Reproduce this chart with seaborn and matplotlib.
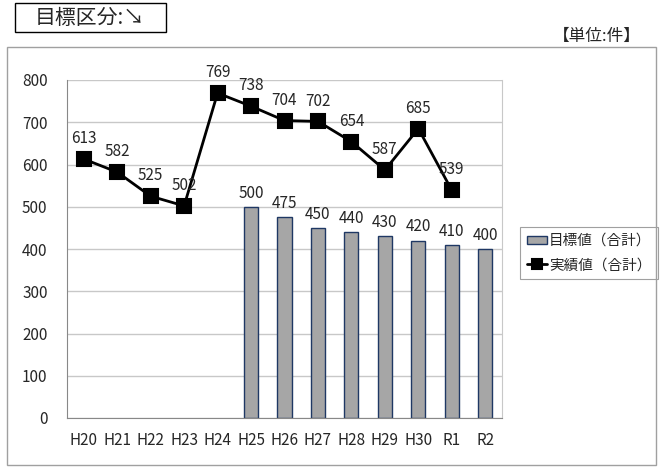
import matplotlib
matplotlib.use("Agg")
import matplotlib.pyplot as plt
import seaborn as sns
import numpy as np
from matplotlib.patches import Rectangle

# data
years = ["H20", "H21", "H22", "H23", "H24", "H25", "H26", "H27", "H28", "H29", "H30", "R1", "R2"]
target = [np.nan, np.nan, np.nan, np.nan, np.nan, 500, 475, 450, 440, 430, 420, 410, 400]
actual = [613, 582, 525, 502, 769, 738, 704, 702, 654, 587, 685, 539, np.nan]

sns.set_style("white")
plt.rcParams["font.family"] = ["Noto Sans CJK JP", "DejaVu Sans"]

W, H = 660, 467
fig = plt.figure(figsize=(W / 100, H / 100), dpi=100)
ax = fig.add_axes([67 / W, 1 - 418 / H, (502 - 67) / W, (418 - 80) / H])

# bars
sns.barplot(x=years, y=target, order=years, color="#a6a6a6", edgecolor="#1f3864",
            linewidth=1, width=0.42, saturation=1, ax=ax, label="目標値（合計）")

# line
sns.pointplot(x=years, y=actual, order=years, color="black", markers="s",
              markersize=10, linewidth=2, ax=ax, label="実績値（合計）")

ax.set_ylim(0, 800)
ax.set_xlim(-0.5, len(years) - 0.5)
ax.set_yticks(range(0, 801, 100))
ax.yaxis.grid(True, color="#c8c8c8", linewidth=1)
ax.set_axisbelow(True)
ax.spines["top"].set_visible(False)
ax.spines["right"].set_color("#c8c8c8")
ax.spines["left"].set_color("#888888")
ax.spines["bottom"].set_color("#888888")
ax.tick_params(axis="both", labelsize=11, length=0)
ax.tick_params(axis="y", pad=14)
ax.tick_params(axis="x", pad=10)
ax.set_xticks(np.arange(-0.5, len(years), 1), minor=True)
ax.tick_params(axis="x", which="minor", length=5, color="#888888", direction="out")

# value labels
for i, v in enumerate(target):
    if not np.isnan(v):
        ax.text(i, v + 12, f"{int(v)}", ha="center", va="bottom", fontsize=11)
for i, v in enumerate(actual):
    if not np.isnan(v):
        ax.text(i, v + 28, f"{int(v)}", ha="center", va="bottom", fontsize=11)

# legend, bars first
handles, labels = ax.get_legend_handles_labels()
order = [labels.index("目標値（合計）"), labels.index("実績値（合計）")]
leg = ax.legend([handles[k] for k in order], [labels[k] for k in order],
                loc="center left", bbox_to_anchor=(520 / W, 1 - 253 / H),
                bbox_transform=fig.transFigure, fontsize=10.5, frameon=True, fancybox=False,
                edgecolor="#888888", handlelength=1.4, handleheight=0.5, handletextpad=0.15,
                borderpad=0.45, labelspacing=0.7, borderaxespad=0, markerscale=0.7)
leg.get_frame().set_linewidth(0.8)

# outer chart frame
fig.patches.append(Rectangle((7 / W, 1 - 465 / H), (656 - 7) / W, (465 - 47) / H,
                             transform=fig.transFigure, fill=False, edgecolor="#a0a0a0", linewidth=1))

# title box
fig.patches.append(Rectangle((15 / W, 1 - 32 / H), (166 - 15) / W, (32 - 3) / H,
                             transform=fig.transFigure, fill=False, edgecolor="black", linewidth=1))
fig.text(90 / W, 1 - 18 / H, "目標区分:↘", ha="center", va="center", fontsize=15)
fig.text(597 / W, 1 - 36 / H, "【単位:件】", ha="center", va="center", fontsize=12)

fig.savefig("out.png", dpi=100)
